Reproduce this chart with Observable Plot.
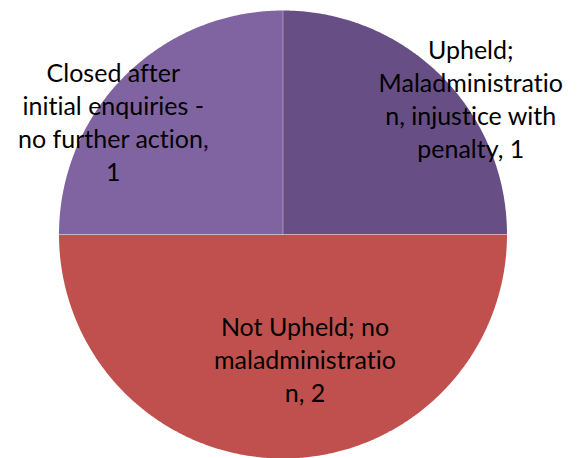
<!DOCTYPE html>
<html>
<head>
<meta charset="utf-8">
<script src="https://cdn.jsdelivr.net/npm/d3@7"></script>
<script src="https://cdn.jsdelivr.net/npm/@observablehq/plot@0.6"></script>
<style>
  html, body { margin: 0; padding: 0; background: #fff; }
  svg text, svg { font-variant-ligatures: none; font-feature-settings: "liga" 0, "clig" 0, "dlig" 0; }
</style>
</head>
<body>
<div id="chart"></div>
<script>
// ---- data ----
const categories = [
  "Upheld; Maladministration, injustice with penalty",
  "Not Upheld; no maladministration",
  "Closed after initial enquiries - no further action"
];
const values = [1, 2, 1];
const labelTexts = [
  "Upheld;\nMaladministratio\nn, injustice with\npenalty, 1",
  "Not Upheld; no\nmaladministratio\nn, 2",
  "Closed after\ninitial enquiries -\nno further action,\n1"
];
const colors = ["#674F86", "#C0504D", "#8064A2"];

// ---- layout (not data) ----
const W = 577, H = 458;
const cx = 282.5, cy = 234, R = 224;
const labelRadius = [0.8, 0.6, 0.8];
const labelNudge = [[61, -10], [22, -10], [-43, 13]];

const arcs = d3.pie().sort(null).value(d => d)(values);

// polygon vertices for each slice, computed from pie angles
const slicePts = [];
arcs.forEach((a, i) => {
  const steps = Math.max(2, Math.ceil((a.endAngle - a.startAngle) / (Math.PI / 360)));
  slicePts.push({k: i, x: 0, y: 0});
  for (let s = 0; s <= steps; s++) {
    const t = a.startAngle + (a.endAngle - a.startAngle) * s / steps;
    slicePts.push({k: i, x: Math.sin(t), y: Math.cos(t)});
  }
  slicePts.push({k: i, x: 0, y: 0});
});

const seps = arcs.map(a => ({x1: 0, y1: 0, x2: Math.sin(a.startAngle), y2: Math.cos(a.startAngle)}));

const labels = arcs.map((a, i) => {
  const m = (a.startAngle + a.endAngle) / 2;
  return {
    text: labelTexts[i],
    x: Math.sin(m) * labelRadius[i],
    y: Math.cos(m) * labelRadius[i],
    dx: labelNudge[i][0],
    dy: labelNudge[i][1]
  };
});

const chart = Plot.plot({
  width: W,
  height: H,
  margin: 0,
  x: {axis: null, domain: [-cx / R, (W - cx) / R]},
  y: {axis: null, domain: [-(H - cy) / R, cy / R]},
  style: {fontFamily: "Lato, 'Open Sans', sans-serif", background: "#fff"},
  marks: [
    Plot.line(slicePts, {
      x: "x", y: "y", z: "k",
      fill: d => colors[d.k],
      stroke: "none",
      curve: "linear"
    }),
    Plot.link(seps, {
      x1: "x1", y1: "y1", x2: "x2", y2: "y2",
      stroke: "#ffffff", strokeOpacity: 0.35, strokeWidth: 1
    }),
    ...labels.map(l => Plot.text([l], {
      x: "x", y: "y", text: "text",
      dx: l.dx, dy: l.dy,
      fontSize: 25,
      lineHeight: 1.32,
      fill: "#000",
      textAnchor: "middle"
    }))
  ]
});
document.getElementById("chart").appendChild(chart);
</script>
</body>
</html>
